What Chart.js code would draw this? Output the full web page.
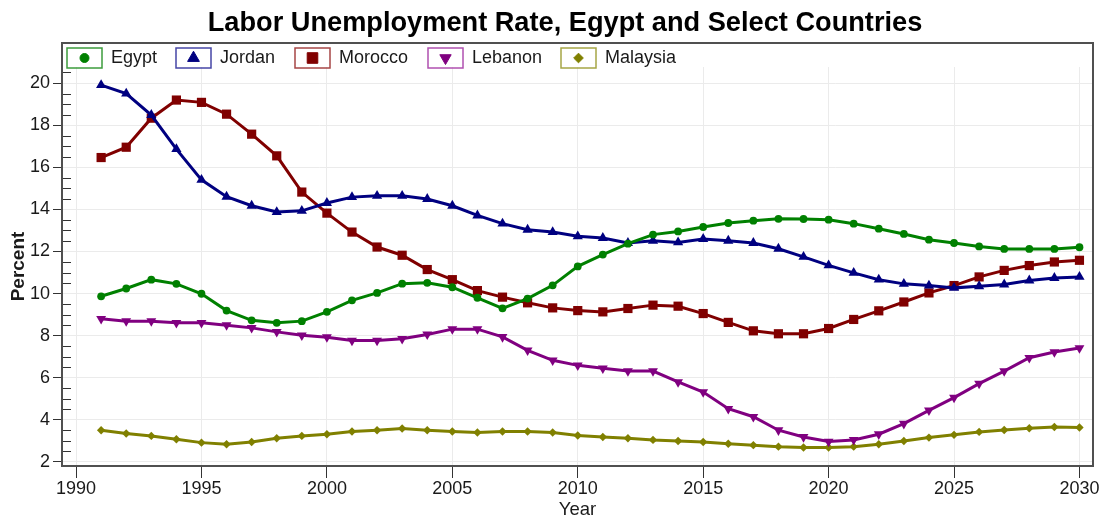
<!DOCTYPE html>
<html>
<head>
<meta charset="utf-8">
<title>Labor Unemployment Rate</title>
<script src="https://cdn.jsdelivr.net/npm/chart.js@4.4.1/dist/chart.umd.min.js"></script>
<style>
    html, body { margin: 0; padding: 0; background: #fff; }
    #wrap { width: 1102px; height: 516px; }
</style>
</head>
<body>
<div id="wrap"><canvas id="chart"></canvas></div>
<script>
const FONT = "'Liberation Sans', Arial, sans-serif";
const TITLE = 'Labor Unemployment Rate, Egypt and Select Countries';

// Data
const years = [1991, 1992, 1993, 1994, 1995, 1996, 1997, 1998, 1999, 2000,
               2001, 2002, 2003, 2004, 2005, 2006, 2007, 2008, 2009, 2010,
               2011, 2012, 2013, 2014, 2015, 2016, 2017, 2018, 2019, 2020,
               2021, 2022, 2023, 2024, 2025, 2026, 2027, 2028, 2029, 2030];

const egypt = [9.87, 10.24, 10.66, 10.46, 9.99, 9.19, 8.73, 8.61, 8.69, 9.13,
               9.68, 10.03, 10.47, 10.51, 10.3, 9.8, 9.3, 9.76, 10.39, 11.29,
               11.85, 12.37, 12.8, 12.95, 13.16, 13.35, 13.46, 13.55, 13.54, 13.51,
               13.32, 13.08, 12.83, 12.56, 12.4, 12.24, 12.12, 12.12, 12.12, 12.2];

const jordan = [19.9, 19.5, 18.48, 16.86, 15.4, 14.6, 14.17, 13.87, 13.93, 14.3,
                14.58, 14.64, 14.64, 14.49, 14.17, 13.71, 13.32, 13.03, 12.92, 12.72,
                12.64, 12.4, 12.51, 12.43, 12.59, 12.51, 12.4, 12.13, 11.74, 11.34,
                10.98, 10.66, 10.46, 10.38, 10.27, 10.35, 10.43, 10.62, 10.74, 10.79];

const morocco = [16.46, 16.95, 18.33, 19.19, 19.08, 18.52, 17.57, 16.54, 14.82, 13.82,
                 12.92, 12.21, 11.82, 11.14, 10.66, 10.14, 9.83, 9.56, 9.32, 9.19,
                 9.13, 9.29, 9.45, 9.4, 9.05, 8.63, 8.23, 8.09, 8.09, 8.34,
                 8.77, 9.18, 9.6, 10.03, 10.38, 10.79, 11.1, 11.33, 11.5, 11.58];

const lebanon = [8.8, 8.69, 8.69, 8.61, 8.61, 8.5, 8.37, 8.18, 8.02, 7.93,
                 7.77, 7.77, 7.85, 8.06, 8.31, 8.31, 7.94, 7.3, 6.83, 6.59,
                 6.45, 6.32, 6.32, 5.8, 5.32, 4.53, 4.15, 3.51, 3.19, 2.97,
                 3.05, 3.32, 3.82, 4.45, 5.06, 5.72, 6.32, 6.95, 7.22, 7.41];

const malaysia = [3.51, 3.35, 3.24, 3.08, 2.92, 2.84, 2.95, 3.13, 3.24, 3.32,
                  3.45, 3.51, 3.59, 3.51, 3.45, 3.4, 3.45, 3.45, 3.4, 3.26,
                  3.19, 3.13, 3.05, 3.0, 2.95, 2.87, 2.8, 2.73, 2.69, 2.69,
                  2.73, 2.84, 3.0, 3.16, 3.29, 3.43, 3.52, 3.6, 3.66, 3.64];

const xTicks = [1990, 1995, 2000, 2005, 2010, 2015, 2020, 2025, 2030];
const yTicks = [2, 4, 6, 8, 10, 12, 14, 16, 18, 20];

// Series look
const series = [
    { label: 'Egypt',    values: egypt,    color: '#008000', box: '#3c9c3c', style: 'circle',   radius: 3.9, rotation: 0 },
    { label: 'Jordan',   values: jordan,   color: '#000080', box: '#4646a6', style: 'triangle', radius: 5.9, rotation: 0 },
    { label: 'Morocco',  values: morocco,  color: '#800000', box: '#a64646', style: 'rect',     radius: 6.5, rotation: 0 },
    { label: 'Lebanon',  values: lebanon,  color: '#800080', box: '#b050b0', style: 'triangle', radius: 5.7, rotation: 180 },
    { label: 'Malaysia', values: malaysia, color: '#808000', box: '#a6a646', style: 'rectRot',  radius: 4.2, rotation: 0 }
];

const toPoints = (vals) => years.map((yr, i) => ({ x: yr, y: vals[i] }));

// Title, frame around the plot, minor y ticks and the boxed legend
const framePlugin = {
    id: 'frame',
    afterDraw(chart) {
        const { ctx, chartArea, scales } = chart;
        const frameTop = chartArea.top - 24;

        ctx.save();

        // title, centred a bit right of the canvas middle like the original
        ctx.fillStyle = '#000';
        ctx.font = 'bold 27.2px ' + FONT;
        ctx.textAlign = 'center';
        ctx.textBaseline = 'alphabetic';
        ctx.fillText(TITLE, 565, 30.5);

        // minor ticks on the y axis, inside
        ctx.strokeStyle = '#333';
        ctx.lineWidth = 1;
        for (let v = scales.y.min; v <= scales.y.max; v += 0.5) {
            const r = Math.round(v * 2) / 2;
            if (r < scales.y.min || r % 2 === 0) continue;
            const py = Math.round(scales.y.getPixelForValue(r)) + 0.5;
            ctx.beginPath();
            ctx.moveTo(chartArea.left, py);
            ctx.lineTo(chartArea.left + 9, py);
            ctx.stroke();
        }

        // frame
        ctx.strokeStyle = '#505050';
        ctx.lineWidth = 2;
        ctx.strokeRect(chartArea.left, frameTop, chartArea.right - chartArea.left, chartArea.bottom - frameTop);

        // legend
        const boxX = [67, 176, 295, 428, 561];
        const boxY = frameTop + 5;
        ctx.font = '18px ' + FONT;
        ctx.textBaseline = 'middle';
        ctx.textAlign = 'left';
        series.forEach((s, i) => {
            ctx.strokeStyle = s.box;
            ctx.lineWidth = 1.5;
            ctx.strokeRect(boxX[i], boxY, 35, 20);
            ctx.fillStyle = s.color;
            ctx.strokeStyle = s.color;
            ctx.lineWidth = 1;
            Chart.helpers.drawPoint(ctx, {
                pointStyle: s.style,
                radius: s.radius * 1.15,
                rotation: s.rotation,
                borderWidth: 1
            }, boxX[i] + 17.5, boxY + 10);
            ctx.fillStyle = '#1a1a1a';
            ctx.fillText(s.label, boxX[i] + 44, boxY + 10.5);
        });

        ctx.restore();
    }
};

const ctx = document.getElementById('chart').getContext('2d');

new Chart(ctx, {
    type: 'line',
    data: {
        datasets: series.map(s => ({
            label: s.label,
            data: toPoints(s.values),
            borderColor: s.color,
            backgroundColor: s.color,
            borderWidth: 3,
            pointStyle: s.style,
            pointRadius: s.radius,
            pointRotation: s.rotation,
            pointBorderWidth: 0,
            pointBackgroundColor: s.color,
            tension: 0,
            fill: false
        }))
    },
    options: {
        responsive: true,
        maintainAspectRatio: false,
        animation: false,
        layout: { padding: { left: 0, right: 9, top: 67, bottom: 0 } },
        plugins: {
            legend: { display: false },
            tooltip: { enabled: false },
            title: { display: false }
        },
        scales: {
            x: {
                type: 'linear',
                min: 1989.44,
                max: 2030.54,
                afterBuildTicks: (scale) => { scale.ticks = xTicks.map(v => ({ value: v })); },
                afterFit: (scale) => { scale.height = 50; },
                ticks: {
                    color: '#1a1a1a',
                    font: { family: FONT, size: 18 },
                    padding: 0,
                    maxRotation: 0,
                    callback: (v) => String(v)
                },
                grid: { color: '#ebebeb', lineWidth: 1, tickLength: 12, tickColor: '#333' },
                border: { display: false },
                title: {
                    display: true,
                    text: 'Year',
                    color: '#1a1a1a',
                    font: { family: FONT, size: 18.5 },
                    padding: { top: -5, bottom: -5 }
                }
            },
            y: {
                min: 1.81,
                max: 20.76,
                afterBuildTicks: (scale) => { scale.ticks = yTicks.map(v => ({ value: v })); },
                afterFit: (scale) => { scale.width = 62; },
                ticks: {
                    color: '#1a1a1a',
                    font: { family: FONT, size: 18 },
                    padding: 3,
                    callback: (v) => String(v)
                },
                grid: { color: '#ebebeb', lineWidth: 1, tickLength: 9, tickColor: '#333' },
                border: { display: false },
                title: {
                    display: true,
                    text: 'Percent',
                    color: '#1a1a1a',
                    font: { family: FONT, size: 19, weight: 'bold' },
                    padding: { top: 7, bottom: 0 }
                }
            }
        }
    },
    plugins: [framePlugin]
});
</script>
</body>
</html>
